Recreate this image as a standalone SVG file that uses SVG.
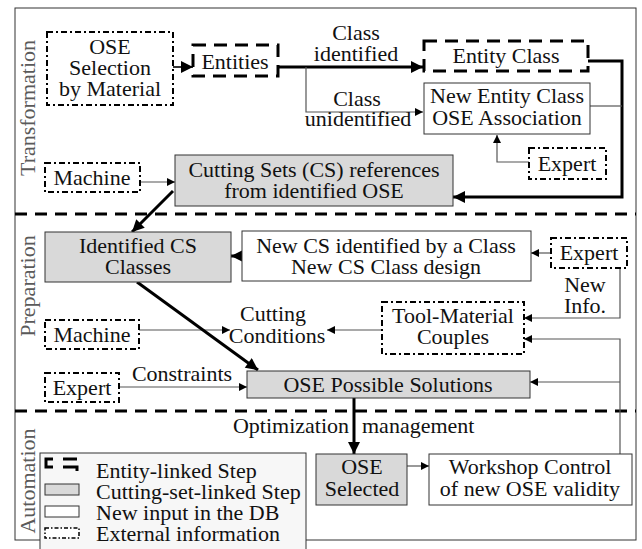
<svg xmlns="http://www.w3.org/2000/svg" width="642" height="549" viewBox="0 0 642 549">
<defs>
<style>
text{font-family:"Liberation Serif","Times New Roman",serif;font-size:22px;fill:#111;text-anchor:middle}
.sec{fill:#5a5a5a}
.lg{text-anchor:start}
.ent{fill:#fff;stroke:#000;stroke-width:3;stroke-dasharray:13 8}
.cs{fill:#d9d9d9;stroke:#333;stroke-width:1}
.inp{fill:#fff;stroke:#333;stroke-width:1}
.ext{fill:#fff;stroke:#000;stroke-width:2;stroke-dasharray:6 3 2 3}
.thick{fill:none;stroke:#000;stroke-width:3}
.thin{fill:none;stroke:#555;stroke-width:1.2}
.sep{stroke:#000;stroke-width:3;stroke-dasharray:12 8}
</style>
<marker id="ah" viewBox="0 0 10 10" refX="10" refY="5" markerWidth="10" markerHeight="8" markerUnits="userSpaceOnUse" orient="auto"><path d="M0,0 L10,5 L0,10 Z" fill="#000"/></marker>
<marker id="ahb" viewBox="0 0 10 10" refX="10" refY="5" markerWidth="14" markerHeight="12" markerUnits="userSpaceOnUse" orient="auto"><path d="M0,0 L10,5 L0,10 Z" fill="#000"/></marker>
</defs>
<rect x="0" y="0" width="642" height="549" fill="#fff"/>
<rect x="15" y="8" width="621" height="532" fill="none" stroke="#333" stroke-width="1"/>
<line class="sep" x1="15" y1="214" x2="636" y2="214"/>
<line class="sep" x1="15" y1="411" x2="636" y2="411"/>
<text class="sec" transform="translate(35,108) rotate(-90)">Transformation</text>
<text class="sec" transform="translate(35,286) rotate(-90)">Preparation</text>
<text class="sec" transform="translate(35,481) rotate(-90)">Automation</text>

<g id="connectors">
<line class="thin" style="stroke:#000;stroke-width:1.6" x1="173" y1="67" x2="193" y2="67" marker-end="url(#ahb)"/>
<line class="thick" x1="278" y1="67" x2="423" y2="67" marker-end="url(#ahb)"/>
<polyline class="thin" points="306,67 306,112 423,112" marker-end="url(#ah)"/>
<polyline class="thick" points="588,61 622,61 622,197 453,197" marker-end="url(#ahb)"/>
<line class="thin" x1="590" y1="106" x2="622" y2="106"/>
<polyline class="thin" points="529,162 497,162 497,135" marker-end="url(#ah)"/>
<line class="thin" x1="140" y1="182" x2="175" y2="182" marker-end="url(#ah)"/>
<line class="thick" x1="173" y1="191" x2="132" y2="232" marker-end="url(#ahb)"/>
<line class="thick" x1="242" y1="256" x2="231" y2="256" marker-end="url(#ahb)"/>
<line class="thin" x1="551" y1="253" x2="531" y2="253" marker-end="url(#ah)"/>
<polyline class="thin" points="620,268 620,318 524,318" marker-end="url(#ah)"/>
<line class="thin" x1="382" y1="330" x2="327" y2="330" marker-end="url(#ah)"/>
<line class="thin" x1="139" y1="330" x2="230" y2="330" marker-end="url(#ah)"/>
<line class="thick" x1="137" y1="282" x2="258" y2="370" marker-end="url(#ahb)"/>
<line class="thin" x1="119" y1="387" x2="247" y2="387" marker-end="url(#ah)"/>
<polyline class="thin" points="620,454 620,339 524,339" marker-end="url(#ah)"/>
<line class="thin" x1="620" y1="382" x2="530" y2="382" marker-end="url(#ah)"/>
<line class="thick" x1="354" y1="398" x2="354" y2="454" marker-end="url(#ahb)"/>
<line class="thin" x1="407" y1="466" x2="429" y2="466" marker-end="url(#ah)"/>
<text x="356" y="40">Class</text>
<text x="356" y="61">identified</text>
<text x="357" y="106">Class</text>
<text x="358" y="126">unidentified</text>
<text x="273" y="321">Cutting</text>
<text x="277" y="343">Conditions</text>
<text x="585" y="292">New</text>
<text x="585" y="313">Info.</text>
<text x="182" y="381">Constraints</text>
<text x="349" y="433" style="text-anchor:end">Optimization</text>
<text x="362" y="433" style="text-anchor:start">management</text>
</g>

<g id="ose_selection">
<rect class="ext" x="47" y="32" width="126" height="73"/>
<text x="110" y="54">OSE</text>
<text x="110" y="75">Selection</text>
<text x="110" y="96">by Material</text>
</g>
<g id="entities">
<rect class="ent" x="193" y="45" width="85" height="31"/>
<text x="235" y="69">Entities</text>
</g>
<g id="entity_class">
<rect class="ent" x="424" y="41" width="164" height="30"/>
<text x="506" y="63">Entity Class</text>
</g>
<g id="new_entity_class">
<rect class="inp" x="424" y="83" width="166" height="51"/>
<text x="507" y="103">New Entity Class</text>
<text x="507" y="125">OSE Association</text>
</g>
<g id="expert_1">
<rect class="ext" x="529" y="148" width="77" height="31"/>
<text x="567" y="171">Expert</text>
</g>
<g id="cutting_sets">
<rect class="cs" x="175" y="155" width="278" height="51"/>
<text x="314" y="177">Cutting Sets (CS) references</text>
<text x="314" y="198">from identified OSE</text>
</g>
<g id="machine_1">
<rect class="ext" x="45" y="163" width="95" height="29"/>
<text x="92" y="185">Machine</text>
</g>
<g id="identified_cs">
<rect class="cs" x="45" y="232" width="186" height="50"/>
<text x="138" y="253">Identified CS</text>
<text x="138" y="274">Classes</text>
</g>
<g id="new_cs">
<rect class="inp" x="242" y="231" width="289" height="50"/>
<text x="386" y="253">New CS identified by a Class</text>
<text x="386" y="274">New CS Class design</text>
</g>
<g id="expert_2">
<rect class="ext" x="551" y="238" width="76" height="30"/>
<text x="589" y="260">Expert</text>
</g>
<g id="tool_material">
<rect class="ext" x="382" y="302" width="142" height="52"/>
<text x="453" y="323">Tool-Material</text>
<text x="453" y="344">Couples</text>
</g>
<g id="machine_2">
<rect class="ext" x="45" y="320" width="94" height="29"/>
<text x="92" y="342">Machine</text>
</g>
<g id="ose_possible">
<rect class="cs" x="247" y="371" width="283" height="27"/>
<text x="388" y="392">OSE Possible Solutions</text>
</g>
<g id="expert_3">
<rect class="ext" x="45" y="373" width="74" height="29"/>
<text x="82" y="395">Expert</text>
</g>
<g id="ose_selected">
<rect class="cs" x="316" y="454" width="91" height="51"/>
<text x="362" y="474">OSE</text>
<text x="362" y="496">Selected</text>
</g>
<g id="workshop">
<rect class="inp" x="429" y="454" width="203" height="51"/>
<text x="530" y="474">Workshop Control</text>
<text x="530" y="496">of new OSE validity</text>
</g>
<g id="legend">
<rect x="40" y="453" width="266" height="100" fill="#f7f7f7" stroke="#333" stroke-width="1"/>
<path d="M53,459 H46 V467 H53 M63,459 H77 M63,467 H77 V471" fill="none" stroke="#000" stroke-width="3"/>
<rect class="cs" x="45" y="484" width="34" height="11"/>
<rect class="inp" x="45" y="506" width="34" height="11"/>
<rect class="ext" style="stroke-width:1.5;stroke-dasharray:4 2 1.5 2" x="45" y="528" width="34" height="10"/>
<text class="lg" x="96" y="478">Entity-linked Step</text>
<text class="lg" x="96" y="499">Cutting-set-linked Step</text>
<text class="lg" x="96" y="520">New input in the DB</text>
<text class="lg" x="96" y="541">External information</text>
</g>
</svg>
